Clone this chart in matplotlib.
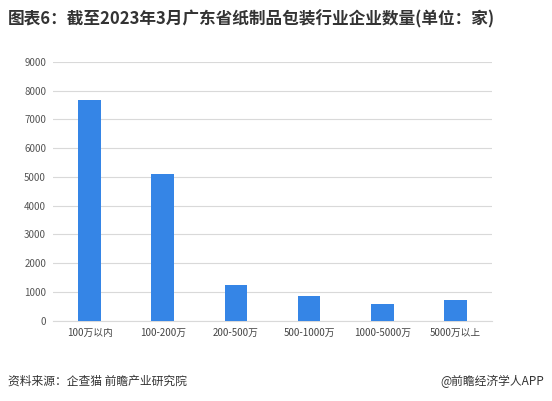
import matplotlib
matplotlib.use('Agg')
import matplotlib.pyplot as plt

plt.rcParams['font.family'] = ['Noto Sans CJK SC', 'DejaVu Sans']

categories = ['100万以内', '100-200万', '200-500万', '500-1000万', '1000-5000万', '5000万以上']
values = [7680, 5100, 1240, 860, 580, 720]
yticks = list(range(0, 9001, 1000))

fig = plt.figure(figsize=(5.52, 4.01), dpi=100)
ax = fig.add_axes([53/552, 1-320.7/401, 439/552, (320.7-62)/401])
ax.bar(range(len(categories)), values, width=0.31, color='#3585E6', zorder=3)
ax.set_ylim(0, 9000)
ax.set_xlim(-0.5, len(categories)-0.5)
ax.set_yticks(yticks)
ax.set_yticklabels([str(t) for t in yticks], fontsize=7, color='#555555')
ax.set_xticks(range(len(categories)))
ax.set_xticklabels(categories, fontsize=7, color='#444444')
ax.grid(axis='y', color='#D9D9D9', linewidth=0.8, zorder=0)
for s in ['top', 'right', 'left']:
    ax.spines[s].set_visible(False)
ax.spines['bottom'].set_color('#D9D9D9')
ax.tick_params(length=0, pad=5)

fig.text(0.015, 0.952, '图表6：截至2023年3月广东省纸制品包装行业企业数量(单位：家)', fontsize=12, fontweight='bold', color='#333333', va='center')
fig.text(0.015, 0.05, '资料来源：企查猫 前瞻产业研究院', fontsize=8.5, color='#333333', va='center')
fig.text(0.985, 0.05, '@前瞻经济学人APP', fontsize=8.5, color='#333333', va='center', ha='right')

fig.savefig('out.png', dpi=100)
